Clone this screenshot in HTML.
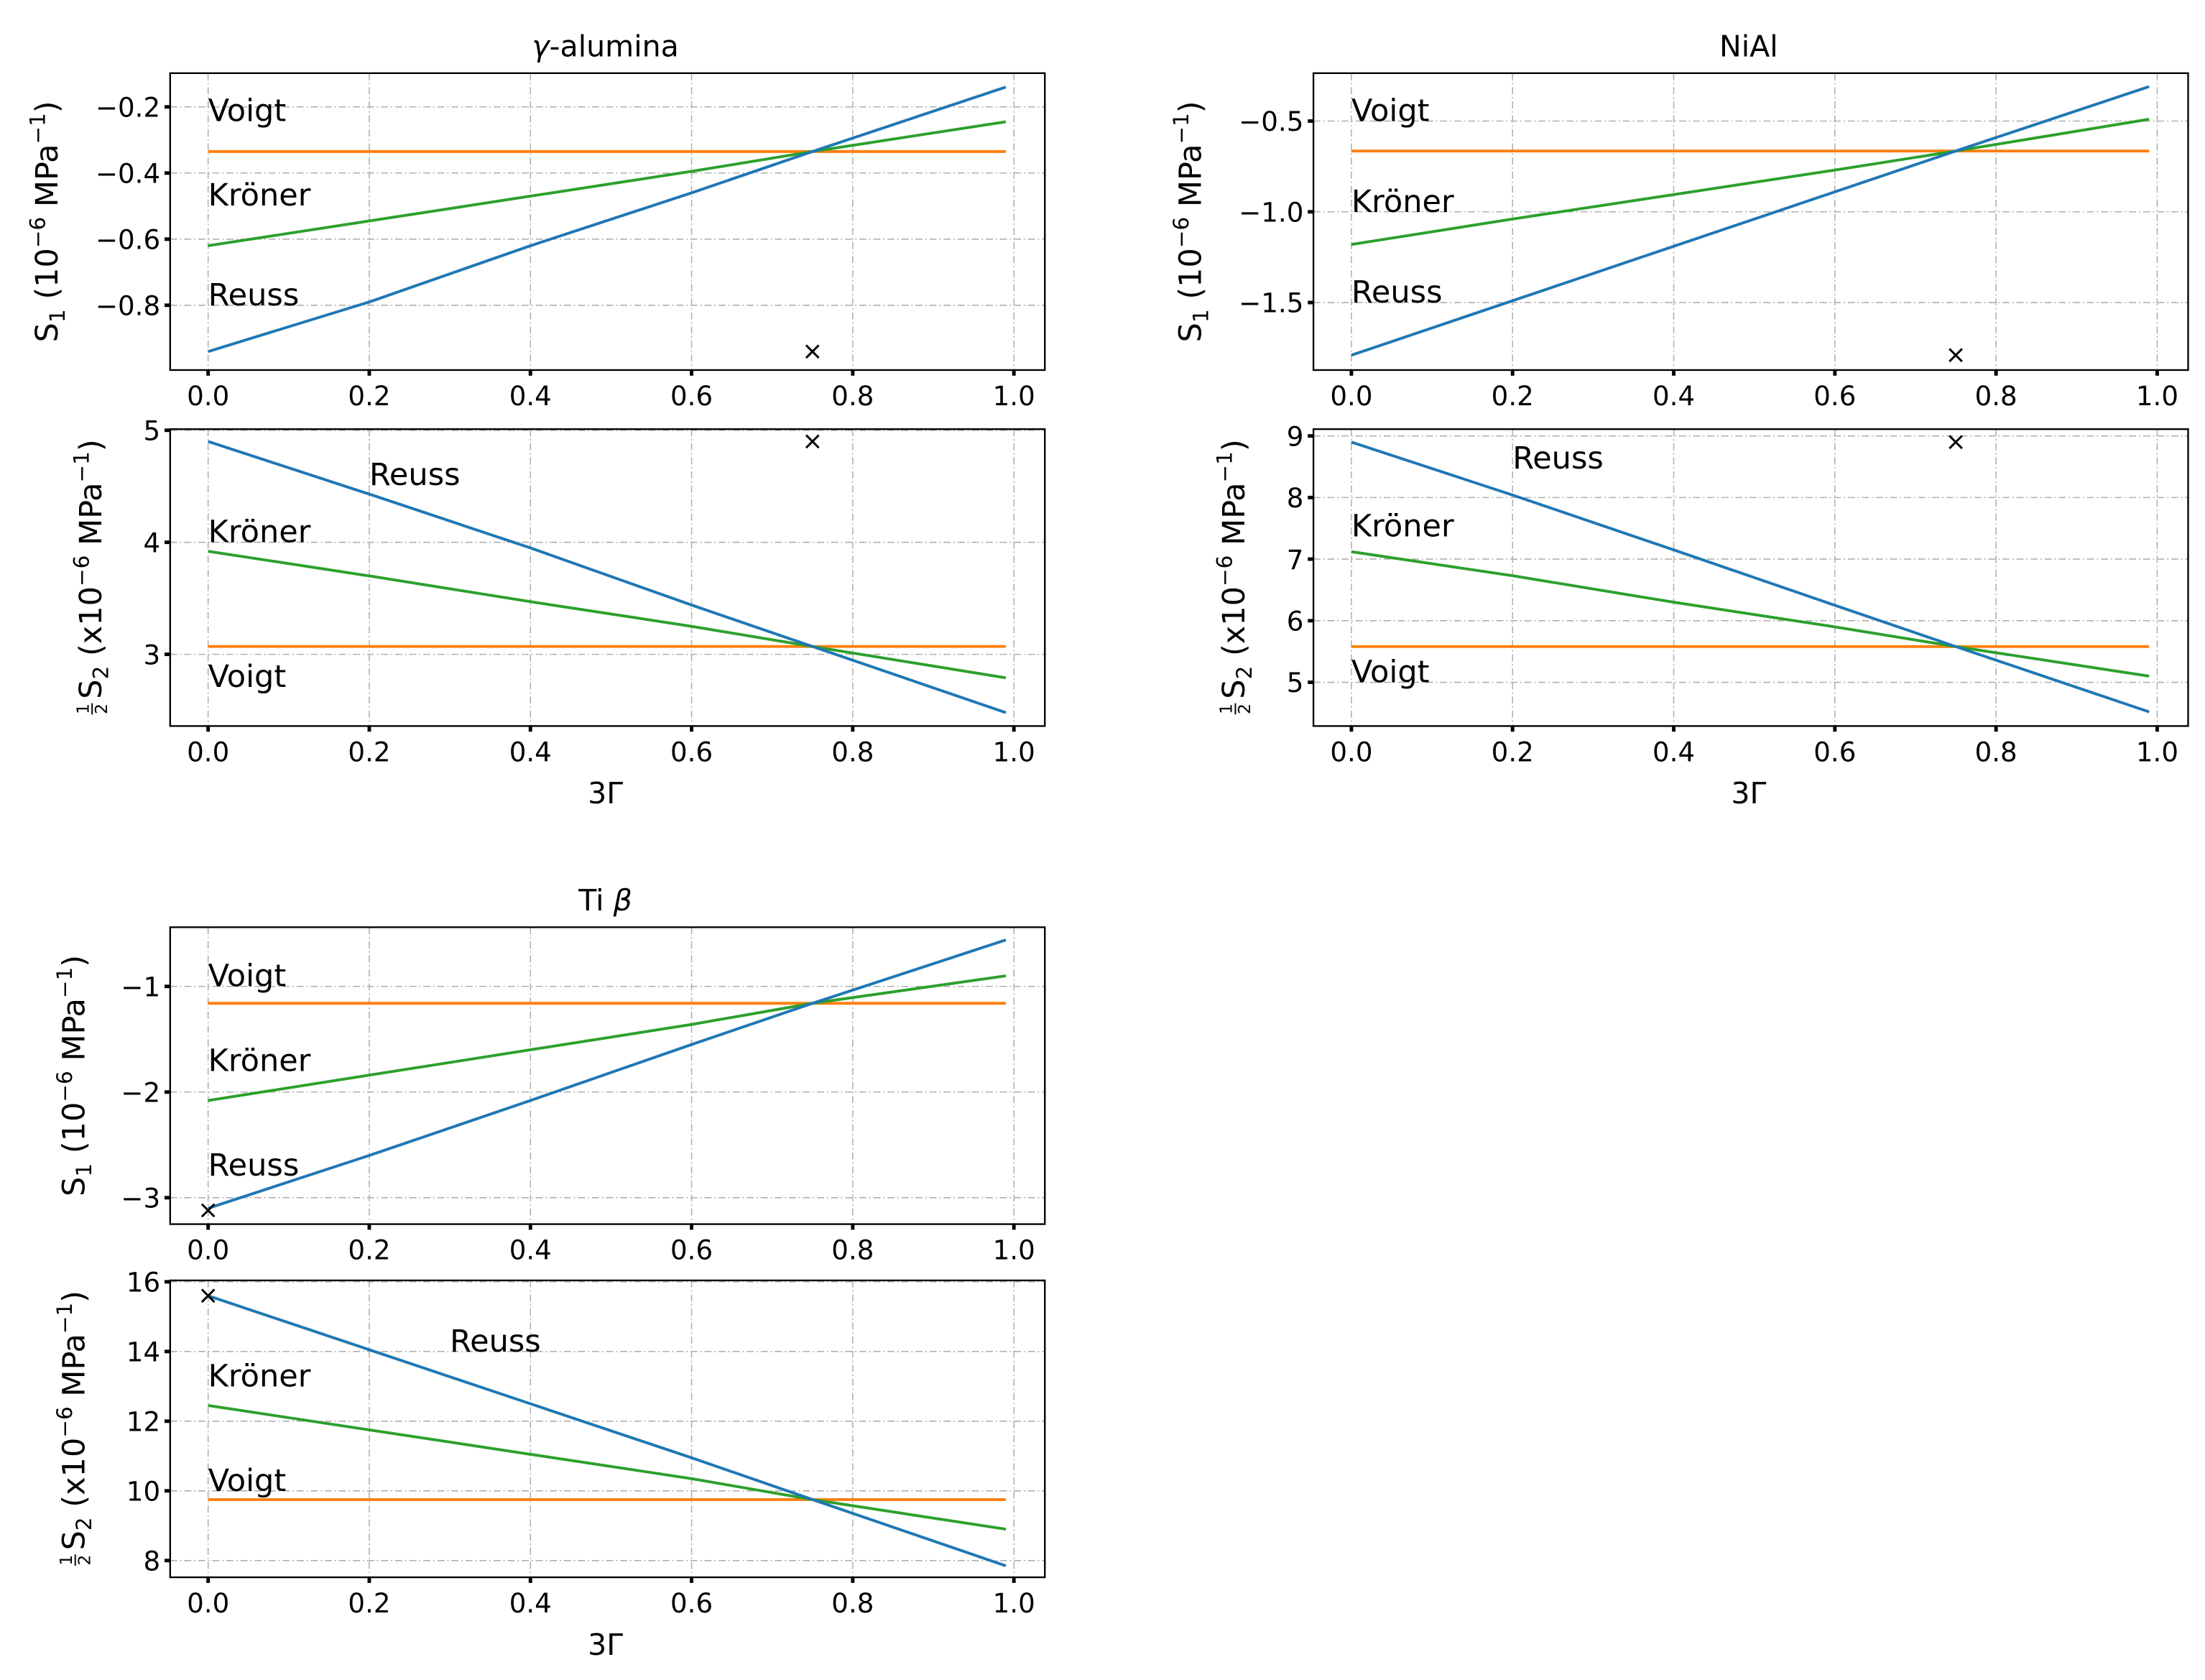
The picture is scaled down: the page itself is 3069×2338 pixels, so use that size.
<!DOCTYPE html>
<html><head><meta charset="utf-8"><style>
html,body{margin:0;padding:0;background:#fff}
svg{display:block}
text{font-family:"DejaVu Sans","Liberation Sans",sans-serif;fill:#000}
</style></head><body>
<svg id="fig" xmlns="http://www.w3.org/2000/svg" width="3069" height="2338" viewBox="0 0 1568 1194" preserveAspectRatio="none"></svg>
<script>
const xTicks = [0, 0.2, 0.4, 0.6, 0.8, 1.0];
const xTickLabels = ["0.0","0.2","0.4","0.6","0.8","1.0"];
const gammaX = [0, 0.2, 0.4, 0.6, 0.75, 0.99];

const alS1Reuss = [-0.94, -0.79, -0.62, -0.46, -0.335, -0.14];
const alS1Kroner = [-0.62, -0.545, -0.47, -0.395, -0.335, -0.245];
const alS1Voigt = [-0.335, -0.335, -0.335, -0.335, -0.335, -0.335];
const alS2Reuss = [4.9, 4.43, 3.95, 3.44, 3.07, 2.48];
const alS2Kroner = [3.92, 3.7, 3.47, 3.25, 3.07, 2.79];
const alS2Voigt = [3.07, 3.07, 3.07, 3.07, 3.07, 3.07];

const niS1Reuss = [-1.79, -1.49, -1.19, -0.89, -0.665, -0.31];
const niS1Kroner = [-1.18, -1.04, -0.905, -0.77, -0.665, -0.49];
const niS1Voigt = [-0.665, -0.665, -0.665, -0.665, -0.665, -0.665];
const niS2Reuss = [8.9, 8.04, 7.15, 6.25, 5.58, 4.52];
const niS2Kroner = [7.12, 6.73, 6.3, 5.9, 5.58, 5.1];
const niS2Voigt = [5.58, 5.58, 5.58, 5.58, 5.58, 5.58];

const tiS1Reuss = [-3.1, -2.6, -2.08, -1.55, -1.16, -0.56];
const tiS1Kroner = [-2.08, -1.84, -1.6, -1.36, -1.16, -0.9];
const tiS1Voigt = [-1.16, -1.16, -1.16, -1.16, -1.16, -1.16];
const tiS2Reuss = [15.6, 14.05, 12.5, 10.95, 9.75, 7.85];
const tiS2Kroner = [12.45, 11.75, 11.05, 10.35, 9.75, 8.9];
const tiS2Voigt = [9.75, 9.75, 9.75, 9.75, 9.75, 9.75];

const alS1Ticks = [-0.2, -0.4, -0.6, -0.8];
const alS1TickLabels = ["\u22120.2","\u22120.4","\u22120.6","\u22120.8"];
const alS2Ticks = [5, 4, 3];
const alS2TickLabels = ["5","4","3"];
const niS1Ticks = [-0.5, -1.0, -1.5];
const niS1TickLabels = ["\u22120.5","\u22121.0","\u22121.5"];
const niS2Ticks = [9, 8, 7, 6, 5];
const niS2TickLabels = ["9","8","7","6","5"];
const tiS1Ticks = [-1, -2, -3];
const tiS1TickLabels = ["\u22121","\u22122","\u22123"];
const tiS2Ticks = [16, 14, 12, 10, 8];
const tiS2TickLabels = ["16","14","12","10","8"];

const alS1Marker = [0.75, -0.94];
const alS2Marker = [0.75, 4.9];
const niS1Marker = [0.75, -1.79];
const niS2Marker = [0.75, 8.9];
const tiS1Marker = [0, -3.12];
const tiS2Marker = [0, 15.6];

const NS = "http://www.w3.org/2000/svg";
const svg = document.getElementById('fig');
function mk(tag, attrs, parent){ const e = document.createElementNS(NS, tag); for (const k in attrs) e.setAttribute(k, attrs[k]); (parent||svg).appendChild(e); return e; }

function panel(cfg){
  const g = mk('g', {});
  
  
  const L = cfg.left, R = cfg.left + 622, T = cfg.top, B = cfg.top + 211;
  const xs = v => L + 27 + v * 573;
  const ys = v => T + (cfg.ymax - v) / (cfg.ymax - cfg.ymin) * (B - T);
  xTicks.forEach(t => {
    const l = mk('line', {x1: xs(t), x2: xs(t), y1: T, y2: B, stroke: '#b0b0b0', 'stroke-width': 0.8, 'stroke-dasharray': '5 2 1 2'}, g);
    
    
  });
  cfg.yTicks.forEach(t => {
    const l = mk('line', {x1: L, x2: R, y1: ys(t), y2: ys(t), stroke: '#b0b0b0', 'stroke-width': 0.8, 'stroke-dasharray': '5 2 1 2'}, g);
    
    
  });
  const series = [[cfg.voigt, '#ff7f0e', 'voigt-line'], [cfg.kroner, '#2ca02c', 'kroner-line'], [cfg.reuss, '#1f77b4', 'reuss-line']];
  series.forEach(([vals, col, nm]) => {
    const pts = vals.map((v, i) => xs(gammaX[i]).toFixed(2) + ',' + ys(v).toFixed(2)).join(' ');
    const p = mk('polyline', {points: pts, fill: 'none', stroke: col, 'stroke-width': 2}, g);
    
    
  });
  const mx = xs(cfg.marker[0]), my = ys(cfg.marker[1]);
  const m = mk('path', {d: `M${mx-4.5},${my-4.5}L${mx+4.5},${my+4.5}M${mx-4.5},${my+4.5}L${mx+4.5},${my-4.5}`, stroke: '#000', 'stroke-width': 1.5}, g);
  
  
  const f = mk('rect', {x: L, y: T, width: R - L, height: B - T, fill: 'none', stroke: '#000', 'stroke-width': 1.2}, g);
  
  
  xTicks.forEach((t, i) => {
    mk('line', {x1: xs(t), x2: xs(t), y1: B, y2: B + 4, stroke: '#000', 'stroke-width': 2.5}, g);
    const tx = mk('text', {x: xs(t), y: B + 25, 'font-size': 19, 'text-anchor': 'middle'}, g);
    tx.textContent = xTickLabels[i];
    
    
  });
  cfg.yTicks.forEach((t, i) => {
    mk('line', {x1: L - 4, x2: L, y1: ys(t), y2: ys(t), stroke: '#000', 'stroke-width': 2.5}, g);
    const tx = mk('text', {x: L - 7, y: ys(t) + 7, 'font-size': 19, 'text-anchor': 'end'}, g);
    tx.textContent = cfg.yTickLabels[i];
    
    
  });
  cfg.labels.forEach(([txt, x, y]) => {
    const tx = mk('text', {x: xs(x), y: ys(y), 'font-size': 22}, g);
    tx.textContent = txt;
    
    
  });
  const cy = (T + B) / 2;
  const yg = mk('g', {transform: `translate(${cfg.ylx},${cy}) rotate(-90)`}, g);
  
  
  const main = mk('text', {x: 0, y: 0, 'font-size': 22}, yg);
  if (cfg.s2) {
    main.innerHTML = 'S<tspan font-size="15" dy="5">2</tspan><tspan dy="-5"> (x10</tspan><tspan font-size="15" dy="-9">\u22126</tspan><tspan dy="9"> MPa</tspan><tspan font-size="15" dy="-9">\u22121</tspan><tspan dy="9">)</tspan>';
    const w = main.getComputedTextLength() + 12;
    const x0 = -w / 2;
    main.setAttribute('x', x0 + 12);
    const n = mk('text', {x: x0 + 5, y: -9, 'font-size': 12, 'text-anchor': 'middle'}, yg); n.textContent = '1';
    mk('line', {x1: x0 + 1, x2: x0 + 9, y1: -6.5, y2: -6.5, stroke: '#000', 'stroke-width': 1}, yg);
    const d = mk('text', {x: x0 + 5, y: 4, 'font-size': 12, 'text-anchor': 'middle'}, yg); d.textContent = '2';
  } else {
    main.innerHTML = 'S<tspan font-size="15" dy="5">1</tspan><tspan dy="-5"> (10</tspan><tspan font-size="15" dy="-9">\u22126</tspan><tspan dy="9"> MPa</tspan><tspan font-size="15" dy="-9">\u22121</tspan><tspan dy="9">)</tspan>';
    const w = main.getComputedTextLength();
    main.setAttribute('x', -w / 2);
  }
  if (cfg.xlabel) {
    const xl = mk('text', {x: xs(0.5) - 4, y: B + 55, 'font-size': 21, 'text-anchor': 'middle'}, g);
    xl.textContent = '3\u0393';
    
    
  }
  if (cfg.title) {
    const tt = mk('text', {x: xs(0.5) - 4, y: T - 12, 'font-size': 21, 'text-anchor': 'middle'}, g);
    tt.innerHTML = cfg.title;
    
    
  }
}

panel({name:'alumina-s1-panel', left:121, top:52, ymin:-0.996, ymax:-0.098, yTicks:alS1Ticks, yTickLabels:alS1TickLabels,
  reuss:alS1Reuss, kroner:alS1Kroner, voigt:alS1Voigt, marker:alS1Marker, ylx:41,
  labels:[['Voigt',0,-0.243],['Kr\u00f6ner',0,-0.498],['Reuss',0,-0.80]], title:'<tspan font-style="italic">\u03b3</tspan>-alumina'});
panel({name:'alumina-s2-panel', left:121, top:305, ymin:2.36, ymax:5.01, yTicks:alS2Ticks, yTickLabels:alS2TickLabels,
  reuss:alS2Reuss, kroner:alS2Kroner, voigt:alS2Voigt, marker:alS2Marker, ylx:72, s2:true, xlabel:true,
  labels:[['Reuss',0.2,4.51],['Kr\u00f6ner',0,4.0],['Voigt',0,2.71]]});
panel({name:'nial-s1-panel', left:934, top:52, ymin:-1.872, ymax:-0.236, yTicks:niS1Ticks, yTickLabels:niS1TickLabels,
  reuss:niS1Reuss, kroner:niS1Kroner, voigt:niS1Voigt, marker:niS1Marker, ylx:854,
  labels:[['Voigt',0,-0.5],['Kr\u00f6ner',0,-1.0],['Reuss',0,-1.5]], title:'NiAl'});
panel({name:'nial-s2-panel', left:934, top:305, ymin:4.29, ymax:9.11, yTicks:niS2Ticks, yTickLabels:niS2TickLabels,
  reuss:niS2Reuss, kroner:niS2Kroner, voigt:niS2Voigt, marker:niS2Marker, ylx:885, s2:true, xlabel:true,
  labels:[['Reuss',0.2,8.47],['Kr\u00f6ner',0,7.37],['Voigt',0,5.0]]});
panel({name:'ti-s1-panel', left:121, top:659, ymin:-3.25, ymax:-0.44, yTicks:tiS1Ticks, yTickLabels:tiS1TickLabels,
  reuss:tiS1Reuss, kroner:tiS1Kroner, voigt:tiS1Voigt, marker:tiS1Marker, ylx:60,
  labels:[['Voigt',0,-1.0],['Kr\u00f6ner',0,-1.8],['Reuss',0,-2.79]], title:'Ti <tspan font-style="italic">\u03b2</tspan>'});
panel({name:'ti-s2-panel', left:121, top:910, ymin:7.52, ymax:16.04, yTicks:tiS2Ticks, yTickLabels:tiS2TickLabels,
  reuss:tiS2Reuss, kroner:tiS2Kroner, voigt:tiS2Voigt, marker:tiS2Marker, ylx:60, s2:true, xlabel:true,
  labels:[['Reuss',0.3,14.0],['Kr\u00f6ner',0,13.0],['Voigt',0,10.0]]});
</script>
</body></html>
